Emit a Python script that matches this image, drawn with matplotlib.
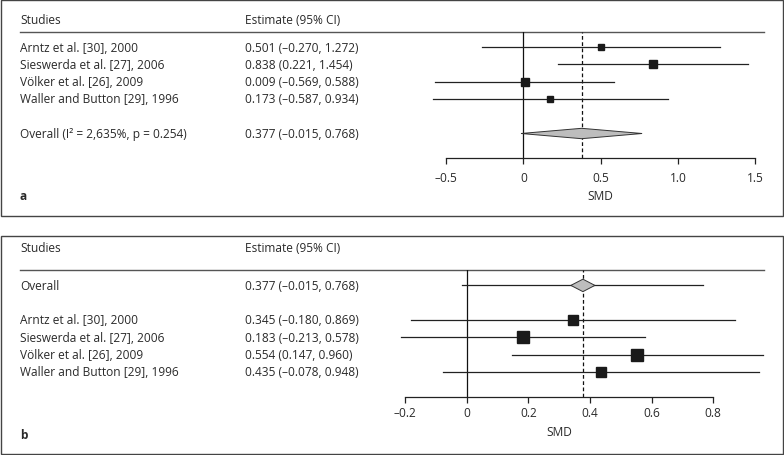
import matplotlib
matplotlib.use("Agg")
import matplotlib.pyplot as plt
from matplotlib.patches import Rectangle, Polygon
from matplotlib.transforms import blended_transform_factory

plt.rcParams['font.family'] = ['Open Sans', 'DejaVu Sans']

# ---------------- data ----------------
studies_a = ["Arntz et al. [30], 2000", "Sieswerda et al. [27], 2006",
             "Völker et al. [26], 2009", "Waller and Button [29], 1996"]
est_a = [0.501, 0.838, 0.009, 0.173]
lo_a = [-0.270, 0.221, -0.569, -0.587]
hi_a = [1.272, 1.454, 0.588, 0.934]
wt_a = [5.0, 5.8, 5.8, 5.0]          # marker sizes (weights)
overall_label_a = "Overall (I² = 2,635%, p = 0.254)"
overall_a = (0.377, -0.015, 0.768)
ticks_a = [-0.5, 0, 0.5, 1.0, 1.5]
ticklabels_a = ["–0.5", "0", "0.5", "1.0", "1.5"]

studies_b = ["Arntz et al. [30], 2000", "Sieswerda et al. [27], 2006",
             "Völker et al. [26], 2009", "Waller and Button [29], 1996"]
est_b = [0.345, 0.183, 0.554, 0.435]
lo_b = [-0.180, -0.213, 0.147, -0.078]
hi_b = [0.869, 0.578, 0.960, 0.948]
wt_b = [7.7, 8.6, 8.9, 7.7]
overall_label_b = "Overall"
overall_b = (0.377, -0.015, 0.768)
ticks_b = [-0.2, 0, 0.2, 0.4, 0.6, 0.8]
ticklabels_b = ["–0.2", "0", "0.2", "0.4", "0.6", "0.8"]

def fmt(v):
    s = f"{abs(v):.3f}"
    return ("–" + s) if v < 0 else s

def est_text(e, l, h):
    return f"{fmt(e)} ({fmt(l)}, {fmt(h)})"

# ---------------- layout ----------------
W, H = 784, 456
fig = plt.figure(figsize=(W / 100, H / 100), dpi=100)
fig.patch.set_facecolor("white")

def fx(x): return x / W
def fy(y): return 1 - y / H

FS = 8.6
TXT = "#2a2a2a"
ROW = 17.3

def panel(letter, top_line, axis_y, left, right, xlim, first_row_px, box, letter_y, header_y):
    ax = fig.add_axes([fx(left), fy(axis_y), (right - left) / W, (axis_y - top_line) / H])
    ytop = (top_line - first_row_px) / ROW
    ybot = (axis_y - first_row_px) / ROW
    ax.set_xlim(*xlim)
    ax.set_ylim(ybot, ytop)
    for s in ["top", "right", "left"]:
        ax.spines[s].set_visible(False)
    ax.spines["bottom"].set_linewidth(0.9)
    ax.spines["bottom"].set_color("#222222")
    ax.set_yticks([])
    ax.patch.set_alpha(0)
    tr = blended_transform_factory(fig.transFigure, ax.transData)
    ax.plot([fx(20), fx(764)], [ytop, ytop], transform=tr, color="#555555",
            lw=1.0, clip_on=False)
    fig.text(fx(20), fy(header_y), "Studies", fontsize=FS, color=TXT, va="center")
    fig.text(fx(245), fy(header_y), "Estimate (95% CI)", fontsize=FS, color=TXT, va="center")
    rect = Rectangle((fx(box[0]), fy(box[3])), fx(box[2] - box[0]), (box[3] - box[1]) / H,
                     transform=fig.transFigure, fill=False, edgecolor="#444444", lw=1.0)
    fig.add_artist(rect)
    fig.text(fx(20), fy(letter_y), letter, fontsize=FS, fontweight="bold", color=TXT, va="center")
    return ax, tr

def study_rows(ax, tr, rows, studies, est, lo, hi, wt):
    for r, s, e, l, h, w in zip(rows, studies, est, lo, hi, wt):
        ax.plot([l, h], [r, r], color="#222222", lw=0.9, clip_on=False)
        ax.plot([e], [r], marker="s", ms=w, color="#1a1a1a", clip_on=False, zorder=4)
        ax.text(fx(20), r, s, transform=tr, fontsize=FS, color=TXT, va="center")
        ax.text(fx(245), r, est_text(e, l, h), transform=tr, fontsize=FS, color=TXT, va="center")

def finish_axis(ax, ticks, labels, pad):
    ax.set_xticks(ticks)
    ax.set_xticklabels(labels, fontsize=FS, color=TXT)
    ax.tick_params(axis="x", length=4, width=0.9, color="#222222", pad=pad)
    ax.set_xlabel("SMD", fontsize=FS, color=TXT, labelpad=4)

# ---------- panel a ----------
ax, tr = panel("a", 33, 159.3, 446, 755.3, (-0.5, 1.5), 48, (1, 1, 783, 217), 197, 20)
ax.axvline(0, color="#111111", lw=0.9)
ax.axvline(overall_a[0], color="#111111", lw=0.9, ls=(0, (3, 2)))
study_rows(ax, tr, [0, 1, 2, 3], studies_a, est_a, lo_a, hi_a, wt_a)
orow = 5
e, l, h = overall_a
dh = 0.3
ax.add_patch(Polygon([[l, orow], [e, orow - dh], [h, orow], [e, orow + dh]],
                     closed=True, facecolor="#bdbdbd", edgecolor="#333333", lw=0.7, zorder=3))
ax.text(fx(20), orow, overall_label_a, transform=tr, fontsize=FS, color=TXT, va="center")
ax.text(fx(245), orow, est_text(e, l, h), transform=tr, fontsize=FS, color=TXT, va="center")
finish_axis(ax, ticks_a, ticklabels_a, 5)

# ---------- panel b ----------
ax, tr = panel("b", 271, 397.7, 405, 713.3, (-0.2, 0.8), 286.4, (1, 237, 783, 455), 436, 249)
ax.axvline(0, color="#111111", lw=0.9)
ax.axvline(overall_b[0], color="#111111", lw=0.9, ls=(0, (3, 2)))
study_rows(ax, tr, [2, 3, 4, 5], studies_b, est_b, lo_b, hi_b, wt_b)
orow = 0
e, l, h = overall_b
ax.plot([l, h], [orow, orow], color="#222222", lw=0.9, clip_on=False)
dw, dh = 0.039, 0.36
ax.add_patch(Polygon([[e - dw, orow], [e, orow - dh], [e + dw, orow], [e, orow + dh]],
                     closed=True, facecolor="#bdbdbd", edgecolor="#333333", lw=0.7,
                     zorder=3, clip_on=False))
ax.text(fx(20), orow, overall_label_b, transform=tr, fontsize=FS, color=TXT, va="center")
ax.text(fx(245), orow, est_text(e, l, h), transform=tr, fontsize=FS, color=TXT, va="center")
finish_axis(ax, ticks_b, ticklabels_b, 3)

fig.savefig("out.png", dpi=100, facecolor="white")
